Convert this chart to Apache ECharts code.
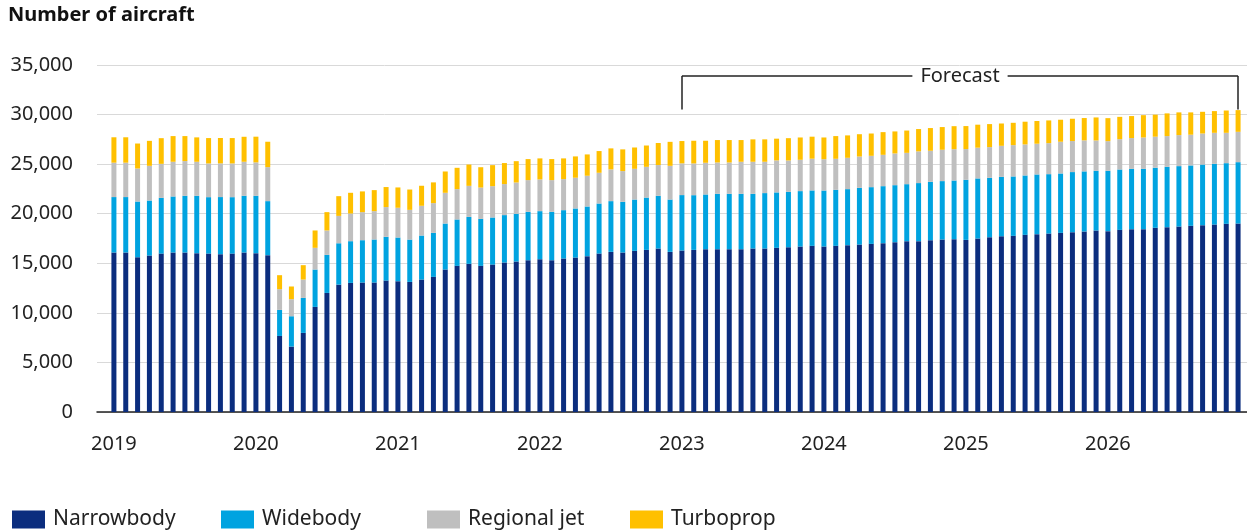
<!DOCTYPE html>
<html>
<head>
<meta charset="utf-8">
<script src="https://cdn.jsdelivr.net/npm/echarts@6/dist/echarts.min.js"></script>
<style>
  html, body { margin: 0; padding: 0; background: #fff; }
  #chart { width: 1247px; height: 531px; }
</style>
</head>
<body>
<div id="chart"></div>
<script>
// monthly fleet, Jan 2019 .. Dec 2026 (forecast from Jan 2023)
const years = ['2019', '2020', '2021', '2022', '2023', '2024', '2025', '2026']
const monthNames = ['Jan', 'Feb', 'Mar', 'Apr', 'May', 'Jun', 'Jul', 'Aug', 'Sep', 'Oct', 'Nov', 'Dec']
const months = years.flatMap(y => monthNames.map(m => m + ' ' + y))

const narrowbody = [
  16090, 16090, 15610, 15780, 15980, 16090, 16090, 16020, 15980, 15920, 15980, 16090,
  16020, 15820, 7670, 6600, 7980, 10600, 12010, 12850, 13020, 13060, 13060, 13260,
  13190, 13120, 13360, 13630, 14370, 14740, 14940, 14740, 14870, 15080, 15180, 15310,
  15410, 15310, 15480, 15580, 15720, 15980, 16150, 16090, 16250, 16350, 16490, 16150,
  16290, 16350, 16420, 16420, 16420, 16420, 16490, 16490, 16560, 16620, 16690, 16760,
  16690, 16760, 16830, 16890, 16960, 17030, 17130, 17230, 17230, 17330, 17400, 17430,
  17360, 17500, 17630, 17730, 17770, 17870, 17940, 18000, 18070, 18140, 18210, 18310,
  18240, 18370, 18440, 18440, 18580, 18640, 18710, 18780, 18840, 18910, 18980, 19010
]
const widebody = [
  5590, 5590, 5620, 5550, 5620, 5650, 5720, 5790, 5690, 5760, 5690, 5720,
  5790, 5450, 2630, 3060, 3530, 3770, 3840, 4170, 4210, 4270, 4340, 4410,
  4410, 4270, 4440, 4440, 4640, 4680, 4740, 4740, 4750, 4780, 4810, 4880,
  4850, 4880, 4880, 4950, 5010, 5050, 5120, 5110, 5180, 5280, 5320, 5280,
  5590, 5520, 5520, 5590, 5590, 5590, 5520, 5590, 5590, 5590, 5590, 5590,
  5650, 5650, 5650, 5720, 5720, 5750, 5750, 5750, 5860, 5890, 5890, 5920,
  6060, 6060, 5990, 5990, 5990, 5990, 6020, 5990, 5990, 6060, 6060, 6020,
  6090, 6090, 6090, 6090, 6060, 6090, 6090, 6090, 6120, 6120, 6120, 6190
]
const regionalJet = [
  3470, 3470, 3330, 3500, 3430, 3500, 3500, 3430, 3400, 3400, 3400, 3430,
  3370, 3430, 2090, 1720, 1850, 2190, 2460, 2760, 2790, 2830, 2860, 3000,
  3000, 3000, 3000, 3000, 3100, 3060, 3130, 3160, 3160, 3130, 3160, 3200,
  3200, 3200, 3130, 3100, 3100, 3100, 3200, 3100, 3100, 3100, 3100, 3400,
  3200, 3200, 3200, 3160, 3160, 3230, 3230, 3160, 3230, 3160, 3160, 3200,
  3160, 3130, 3160, 3160, 3160, 3160, 3200, 3160, 3200, 3130, 3160, 3160,
  3100, 3100, 3100, 3130, 3160, 3130, 3100, 3130, 3200, 3130, 3130, 3060,
  2990, 3060, 3100, 3160, 3130, 3100, 3130, 3100, 3130, 3130, 3060, 3060
]
const turboprop = [
  2560, 2560, 2520, 2520, 2590, 2590, 2520, 2460, 2560, 2560, 2560, 2520,
  2590, 2560, 1410, 1280, 1450, 1750, 1850, 1990, 2090, 2090, 2120, 2020,
  2050, 2050, 2020, 2090, 2150, 2150, 2150, 2050, 2120, 2120, 2150, 2120,
  2120, 2120, 2090, 2150, 2150, 2190, 2120, 2190, 2150, 2150, 2220, 2420,
  2250, 2290, 2220, 2260, 2260, 2190, 2260, 2260, 2190, 2250, 2250, 2220,
  2190, 2290, 2260, 2250, 2250, 2290, 2220, 2250, 2250, 2290, 2290, 2320,
  2320, 2320, 2320, 2250, 2250, 2290, 2290, 2290, 2220, 2250, 2250, 2320,
  2320, 2250, 2220, 2250, 2220, 2290, 2290, 2250, 2190, 2190, 2250, 2190
]

const seriesNames = ['Narrowbody', 'Widebody', 'Regional jet', 'Turboprop']
const seriesColors = ['#0b2d7e', '#00a3e0', '#bfbfbf', '#ffc000']
const yTicks = [0, 5000, 10000, 15000, 20000, 25000, 30000, 35000]

// forecast bracket: first / last forecast month, bracket height
const forecastStart = 48
const forecastEnd = 95
const bracketTop = 33900
const bracketFoot = 30500

const FONT = '"Noto Sans", "Open Sans", sans-serif'

const chart = echarts.init(document.getElementById('chart'))

const allSeries = [narrowbody, widebody, regionalJet, turboprop].map((arr, k) => ({
  name: seriesNames[k],
  type: 'bar',
  stack: 'fleet',
  xAxisIndex: 1,
  yAxisIndex: 1,
  barWidth: 5,
  data: arr,
  itemStyle: { color: seriesColors[k] },
  emphasis: { disabled: true }
}))

// bracket over the forecast months
allSeries[3].markLine = {
  silent: true,
  symbol: 'none',
  lineStyle: { color: '#222', width: 1.5, type: 'solid' },
  label: { show: false },
  data: [
    [{ coord: [forecastStart, bracketFoot] }, { coord: [forecastStart, bracketTop] }],
    [
      {
        coord: [forecastStart, bracketTop],
        label: {
          show: true,
          position: 'middle',
          formatter: 'Forecast',
          color: '#222',
          fontSize: 20,
          fontFamily: FONT,
          backgroundColor: '#fff',
          padding: [0, 8],
          distance: 0,
          verticalAlign: 'middle'
        }
      },
      { coord: [forecastEnd, bracketTop] }
    ],
    [{ coord: [forecastEnd, bracketTop] }, { coord: [forecastEnd, bracketFoot] }]
  ]
}

const legendLefts = [7, 216, 422, 625]
const yMin = yTicks[0]
const yMax = yTicks[yTicks.length - 1]

chart.setOption({
  animation: false,
  title: {
    text: 'Number of aircraft',
    left: 3,
    top: 0,
    textStyle: { fontFamily: FONT, fontSize: 20, fontWeight: 'bold', color: '#111' }
  },
  legend: seriesNames.map((name, k) => ({
    data: [name],
    left: legendLefts[k],
    top: 504,
    icon: 'rect',
    itemWidth: 33,
    itemHeight: 18,
    selectedMode: false,
    textStyle: { fontFamily: FONT, fontSize: 21, color: '#222', padding: [0, 0, 0, 3] }
  })),
  // grid 0: value scale, gridlines and baseline; grid 1: the monthly bars
  grid: [
    { left: 97, right: 0, top: 65, bottom: 119 },
    { left: 108, right: 3, top: 65, bottom: 119 }
  ],
  xAxis: [
    {
      gridIndex: 0,
      type: 'value',
      min: 0,
      max: 1,
      axisLine: { show: true, lineStyle: { color: '#222', width: 1.5 } },
      axisTick: { show: false },
      axisLabel: { show: false },
      splitLine: { show: false }
    },
    {
      gridIndex: 1,
      type: 'category',
      data: months,
      axisLine: { show: false },
      axisTick: { show: false },
      axisLabel: {
        interval: i => i % 12 === 0,
        formatter: v => v.slice(-4),
        margin: 22,
        fontFamily: FONT,
        fontSize: 20,
        color: '#222'
      }
    }
  ],
  yAxis: [
    {
      gridIndex: 0,
      type: 'value',
      min: yMin,
      max: yMax,
      interval: 5000,
      axisLine: { show: false },
      axisTick: { show: false },
      splitLine: { lineStyle: { color: '#d9d9d9', width: 1 } },
      axisLabel: {
        margin: 24,
        fontFamily: FONT,
        fontSize: 20,
        color: '#222',
        formatter: v => v.toLocaleString('en-US')
      }
    },
    {
      gridIndex: 1,
      type: 'value',
      min: yMin,
      max: yMax,
      show: false
    }
  ],
  series: allSeries
})
</script>
</body>
</html>
